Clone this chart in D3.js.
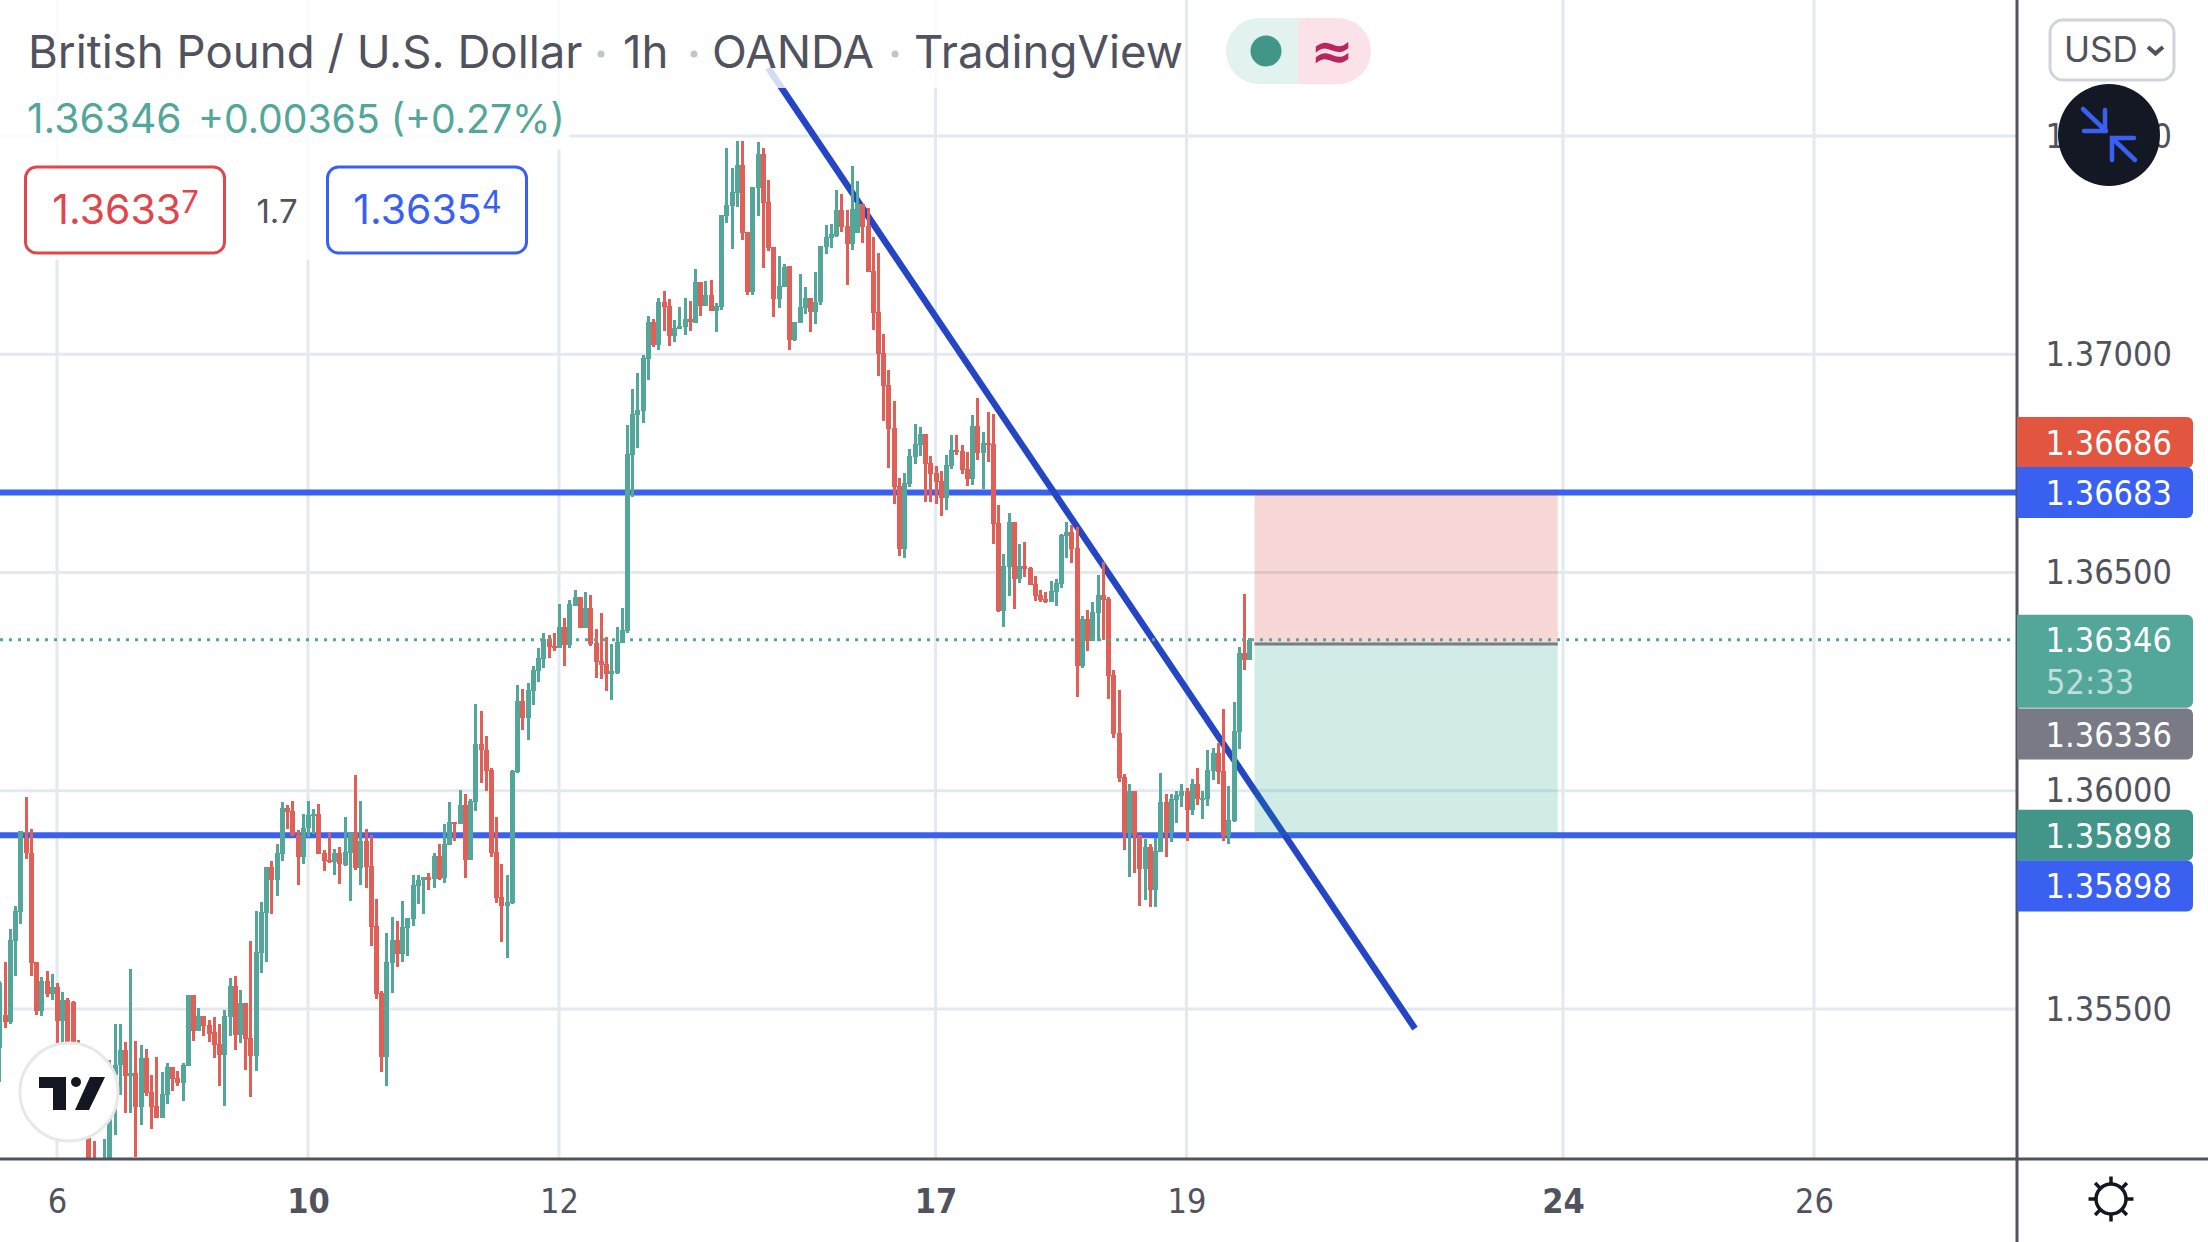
<!DOCTYPE html>
<html>
<head>
<meta charset="utf-8">
<title>GBP/USD 1h</title>
<style>
html, body { margin: 0; padding: 0; background: #fff; }
svg { display: block; }
.scale text { font-family: 'DejaVu Sans'; font-stretch: condensed; font-size: 34px; fill: #50535e; }
.legend { font-family: Inter, Roboto, sans-serif; }
</style>
</head>
<body>
<svg></svg>
<script src="https://d3js.org/d3.v7.min.js"></script>
<script>
// hourly bars, the first one sits 11 bars left of the "6" day tick
const firstBar = -11;
const opens = [
1.35411,1.35487,1.35471,1.35656,1.35722,1.35892,1.35858,1.35608,1.35496,1.35565,1.35535,
1.35551,1.35473,1.35521,1.35516,1.35407,1.35326,1.35212,1.35143,1.35086,1.35086,1.35120,1.35349,
1.35372,1.35405,1.35347,1.35354,1.35276,1.35388,1.35310,1.35278,1.35251,1.35304,1.35368,1.35342,
1.35331,1.35370,1.35533,1.35450,1.35484,1.35464,1.35448,1.35420,1.35395,1.35482,1.35553,1.35441,
1.35514,1.35434,1.35393,1.35629,1.35720,1.35826,1.35796,1.35856,1.35961,1.35954,1.35899,1.35849,
1.35915,1.35943,1.35947,1.35858,1.35842,1.35837,1.35858,1.35830,1.35858,1.35904,1.35824,1.35885,
1.35828,1.35691,1.35537,1.35391,1.35606,1.35659,1.35626,1.35686,1.35707,1.35782,1.35796,1.35803,
1.35798,1.35851,1.35801,1.35876,1.35929,1.35924,1.35968,1.35842,1.35975,1.36107,1.36094,1.36048,
1.35860,1.35757,1.35736,1.35743,1.36043,1.36206,1.36167,1.36229,1.36275,1.36302,1.36348,1.36332,
1.36327,1.36376,1.36334,1.36423,1.36444,1.36373,1.36419,1.36339,1.36298,1.36291,1.36268,1.36270,
1.36339,1.36366,1.36769,1.36861,1.36870,1.36989,1.37074,1.37021,1.37120,1.37111,1.37042,1.37058,
1.37063,1.37081,1.37072,1.37166,1.37111,1.37136,1.37099,1.37108,1.37317,1.37340,1.37369,1.37434,
1.37280,1.37143,1.37381,1.37459,1.37349,1.37246,1.37127,1.37154,1.37202,1.37033,1.37072,1.37106,
1.37129,1.37097,1.37120,1.37246,1.37266,1.37271,1.37330,1.37294,1.37253,1.37278,1.37344,1.37294,
1.37191,1.37097,1.37003,1.36930,1.36831,1.36698,1.36554,1.36703,1.36765,1.36792,1.36817,1.36751,
1.36728,1.36710,1.36671,1.36744,1.36781,1.36779,1.36737,1.36714,1.36836,1.36774,1.36797,1.36795,
1.36614,1.36412,1.36513,1.36616,1.36485,1.36515,1.36511,1.36474,1.36449,1.36440,1.36433,1.36456,
1.36474,1.36584,1.36593,1.36556,1.36286,1.36394,1.36343,1.36407,1.36449,1.36440,1.36265,1.36133,
1.36032,1.35904,1.36000,1.35899,1.35821,1.35872,1.35773,1.35860,1.35975,1.35906,1.35979,1.35988,
1.36000,1.35956,1.36016,1.35982,1.35982,1.36046,1.36087,1.36046,1.35897,1.35931,1.36135,1.36316,
1.36300
];
const highs = [
1.35565,1.35608,1.35684,1.35736,1.35908,1.35986,1.35913,1.35608,1.35574,1.35587,1.35581,
1.35560,1.35539,1.35525,1.35519,1.35429,1.35349,1.35224,1.35198,1.35143,1.35203,1.35384,1.35466,
1.35466,1.35425,1.35592,1.35427,1.35418,1.35409,1.35349,1.35391,1.35356,1.35377,1.35368,1.35358,
1.35377,1.35533,1.35533,1.35503,1.35484,1.35475,1.35482,1.35466,1.35498,1.35571,1.35576,1.35544,
1.35514,1.35656,1.35725,1.35746,1.35826,1.35840,1.35879,1.35975,1.35968,1.35977,1.35911,1.35947,
1.35977,1.35958,1.35970,1.35865,1.35904,1.35867,1.35872,1.35940,1.35904,1.36037,1.35977,1.35913,
1.35899,1.35752,1.35542,1.35675,1.35711,1.35702,1.35748,1.35709,1.35807,1.35807,1.35803,1.35812,
1.35858,1.35879,1.35924,1.35975,1.35929,1.36002,1.35993,1.35982,1.36199,1.36183,1.36126,1.36053,
1.35940,1.35833,1.35807,1.36048,1.36243,1.36233,1.36247,1.36286,1.36327,1.36362,1.36357,1.36362,
1.36428,1.36396,1.36437,1.36460,1.36444,1.36456,1.36449,1.36371,1.36407,1.36353,1.36336,1.36376,
1.36419,1.36838,1.36921,1.36957,1.36998,1.37088,1.37081,1.37129,1.37145,1.37127,1.37079,1.37108,
1.37129,1.37122,1.37195,1.37166,1.37168,1.37170,1.37117,1.37319,1.37473,1.37427,1.37489,1.37489,
1.37280,1.37383,1.37486,1.37473,1.37399,1.37246,1.37225,1.37207,1.37202,1.37074,1.37184,1.37154,
1.37129,1.37188,1.37248,1.37296,1.37298,1.37376,1.37367,1.37330,1.37431,1.37397,1.37344,1.37335,
1.37269,1.37232,1.37047,1.36964,1.36893,1.36717,1.36728,1.36783,1.36840,1.36833,1.36817,1.36767,
1.36744,1.36733,1.36769,1.36815,1.36815,1.36792,1.36776,1.36861,1.36900,1.36822,1.36868,1.36863,
1.36655,1.36543,1.36637,1.36616,1.36566,1.36570,1.36513,1.36492,1.36460,1.36456,1.36481,1.36485,
1.36588,1.36616,1.36609,1.36604,1.36401,1.36414,1.36433,1.36494,1.36524,1.36444,1.36277,1.36231,
1.36039,1.36016,1.36000,1.35899,1.35890,1.35879,1.35892,1.36041,1.35993,1.35993,1.36000,1.36016,
1.36007,1.36027,1.36053,1.36000,1.36094,1.36098,1.36110,1.36188,1.36011,1.36204,1.36330,1.36451,
1.36350
];
const lows = [
1.35333,1.35457,1.35466,1.35576,1.35695,1.35844,1.35576,1.35487,1.35484,1.35528,1.35521,
1.35418,1.35402,1.35384,1.35361,1.35292,1.35235,1.35075,1.35086,1.35063,1.35075,1.35097,1.35212,
1.35304,1.35262,1.35262,1.35161,1.35235,1.35301,1.35226,1.35251,1.35251,1.35283,1.35313,1.35324,
1.35290,1.35370,1.35427,1.35450,1.35439,1.35425,1.35388,1.35324,1.35278,1.35439,1.35405,1.35423,
1.35361,1.35299,1.35358,1.35583,1.35608,1.35718,1.35759,1.35840,1.35913,1.35897,1.35785,1.35833,
1.35895,1.35901,1.35856,1.35817,1.35835,1.35807,1.35787,1.35828,1.35748,1.35819,1.35785,1.35778,
1.35645,1.35523,1.35356,1.35324,1.35537,1.35597,1.35608,1.35622,1.35691,1.35741,1.35718,1.35773,
1.35778,1.35796,1.35789,1.35876,1.35885,1.35924,1.35801,1.35842,1.35954,1.36018,1.36000,1.35849,
1.35743,1.35654,1.35617,1.35741,1.36041,1.36139,1.36117,1.36197,1.36249,1.36282,1.36304,1.36320,
1.36327,1.36286,1.36327,1.36423,1.36373,1.36373,1.36332,1.36259,1.36256,1.36229,1.36208,1.36268,
1.36339,1.36362,1.36673,1.36785,1.36843,1.36941,1.37017,1.37010,1.37053,1.37019,1.37028,1.37058,
1.37044,1.37053,1.37072,1.37088,1.37111,1.37099,1.37051,1.37101,1.37301,1.37241,1.37337,1.37262,
1.37136,1.37136,1.37317,1.37198,1.37237,1.37085,1.37106,1.37154,1.37010,1.37030,1.37072,1.37092,
1.37051,1.37069,1.37113,1.37230,1.37243,1.37269,1.37280,1.37159,1.37239,1.37278,1.37255,1.37188,
1.37056,1.36950,1.36847,1.36740,1.36657,1.36538,1.36533,1.36696,1.36749,1.36767,1.36662,1.36662,
1.36657,1.36630,1.36643,1.36737,1.36769,1.36726,1.36698,1.36701,1.36758,1.36692,1.36753,1.36566,
1.36410,1.36375,1.36446,1.36417,1.36476,1.36490,1.36472,1.36435,1.36433,1.36430,1.36433,1.36423,
1.36465,1.36533,1.36522,1.36215,1.36281,1.36320,1.36343,1.36343,1.36346,1.36210,1.36121,1.36020,
1.35865,1.35803,1.35812,1.35736,1.35750,1.35734,1.35734,1.35860,1.35849,1.35883,1.35926,1.35963,
1.35885,1.35945,1.35968,1.35936,1.35966,1.36025,1.36016,1.35885,1.35879,1.35929,1.36096,1.36277,
1.36300
];
const closes = [
1.35560,1.35471,1.35659,1.35725,1.35908,1.35858,1.35606,1.35496,1.35565,1.35535,1.35551,
1.35473,1.35521,1.35418,1.35407,1.35326,1.35269,1.35109,1.35109,1.35127,1.35143,1.35349,1.35372,
1.35405,1.35347,1.35354,1.35276,1.35388,1.35308,1.35276,1.35251,1.35306,1.35368,1.35340,1.35331,
1.35372,1.35533,1.35450,1.35484,1.35462,1.35443,1.35418,1.35395,1.35484,1.35553,1.35441,1.35514,
1.35432,1.35393,1.35631,1.35722,1.35826,1.35796,1.35858,1.35961,1.35952,1.35899,1.35849,1.35915,
1.35945,1.35947,1.35856,1.35840,1.35837,1.35858,1.35833,1.35860,1.35904,1.35824,1.35885,1.35826,
1.35688,1.35535,1.35391,1.35608,1.35659,1.35626,1.35688,1.35709,1.35785,1.35796,1.35803,1.35796,
1.35851,1.35798,1.35879,1.35929,1.35926,1.35968,1.35842,1.35977,1.36107,1.36094,1.36046,1.35858,
1.35755,1.35736,1.35746,1.36046,1.36206,1.36167,1.36231,1.36277,1.36304,1.36348,1.36330,1.36330,
1.36376,1.36334,1.36428,1.36444,1.36373,1.36419,1.36336,1.36295,1.36288,1.36268,1.36275,1.36341,
1.36369,1.36772,1.36863,1.36872,1.36991,1.37074,1.37021,1.37120,1.37108,1.37042,1.37060,1.37065,
1.37081,1.37074,1.37166,1.37111,1.37136,1.37099,1.37111,1.37319,1.37342,1.37372,1.37434,1.37278,
1.37143,1.37383,1.37459,1.37347,1.37243,1.37127,1.37156,1.37200,1.37033,1.37074,1.37108,1.37129,
1.37097,1.37120,1.37248,1.37269,1.37275,1.37330,1.37292,1.37253,1.37333,1.37344,1.37292,1.37188,
1.37095,1.37001,1.36927,1.36829,1.36696,1.36554,1.36705,1.36767,1.36795,1.36817,1.36749,1.36726,
1.36707,1.36671,1.36746,1.36781,1.36776,1.36735,1.36714,1.36836,1.36774,1.36797,1.36792,1.36611,
1.36412,1.36515,1.36616,1.36485,1.36515,1.36508,1.36472,1.36446,1.36437,1.36433,1.36458,1.36476,
1.36586,1.36593,1.36554,1.36286,1.36394,1.36343,1.36410,1.36449,1.36437,1.36263,1.36130,1.36030,
1.35904,1.36000,1.35899,1.35821,1.35872,1.35773,1.35862,1.35975,1.35906,1.35982,1.35991,1.36000,
1.35956,1.36016,1.35982,1.35984,1.36048,1.36087,1.36043,1.35897,1.35933,1.36137,1.36316,1.36300,
1.36346
];

const priceTicks = [1.375, 1.37, 1.365, 1.36, 1.355];
const dayBars = [0, 48, 96, 168, 216, 288, 336];
const dayLabels = ['6', '10', '12', '17', '19', '24', '26'];
const boldDays = ['10', '17', '24'];

const stopPrice = 1.36683, entryPrice = 1.36336, targetPrice = 1.35898;
const lastPrice = 1.36346;
const hLines = [stopPrice, targetPrice];
const trendBars = [136, 259.7], trendPrices = [1.37656, 1.35455];
const positionBars = [229, 287];

// right hand price tags, stacked the way the app pushes them apart
const tagLabels = ['1.36686', '1.36683', '1.36336', '1.35898', '1.35898'];
const tagPrices = [1.36798, 1.36683, 1.36130, 1.35898, 1.35782];
const tagColors = ['#e2553f', '#3a60f2', '#787b86', '#429589', '#3a60f2'];

const green = '#53a69a', red = '#e06057';
const ink = '#50535e';
const gridColor = '#e3e9f0';

const W = 2208, H = 1242;
const paneR = 2017, paneB = 1159;

const svg = d3.select('svg').attr('width', W).attr('height', H);

const x = d3.scaleLinear([0, 48], [57, 308]);
const y = d3.scaleLinear([1.355, 1.375], [1009, 136]);

svg.append('clipPath').attr('id', 'pane')
   .append('rect').attr('width', paneR).attr('height', paneB);

const pane = svg.append('g').attr('clip-path', 'url(#pane)');

// grid
pane.append('g').selectAll('line').data(priceTicks).join('line')
    .attr('x1', 0).attr('x2', paneR)
    .attr('y1', d => y(d)).attr('y2', d => y(d))
    .attr('stroke', gridColor).attr('stroke-width', 3);
pane.append('g').selectAll('line').data(dayBars).join('line')
    .attr('x1', d => x(d)).attr('x2', d => x(d))
    .attr('y1', 0).attr('y2', paneB)
    .attr('stroke', gridColor).attr('stroke-width', 3);

// drawings
pane.append('g').selectAll('line').data(hLines).join('line')
    .attr('x1', 0).attr('x2', paneR)
    .attr('y1', d => y(d)).attr('y2', d => y(d))
    .attr('stroke', '#3a60f2').attr('stroke-width', 6);

pane.append('line')
    .attr('x1', x(trendBars[0])).attr('y1', y(trendPrices[0]))
    .attr('x2', x(trendBars[1])).attr('y2', y(trendPrices[1]))
    .attr('stroke', '#2446c4').attr('stroke-width', 6.5);

pane.append('rect')
    .attr('x', x(positionBars[0])).attr('width', x(positionBars[1]) - x(positionBars[0]))
    .attr('y', y(stopPrice)).attr('height', y(entryPrice) - y(stopPrice))
    .attr('fill', '#d73c32').attr('fill-opacity', 0.2);
pane.append('rect')
    .attr('x', x(positionBars[0])).attr('width', x(positionBars[1]) - x(positionBars[0]))
    .attr('y', y(entryPrice)).attr('height', y(targetPrice) - y(entryPrice))
    .attr('fill', '#089981').attr('fill-opacity', 0.19);
pane.append('line')
    .attr('x1', x(positionBars[0])).attr('x2', x(positionBars[1]))
    .attr('y1', y(entryPrice)).attr('y2', y(entryPrice))
    .attr('stroke', '#787b86').attr('stroke-width', 3);

// candles
const candles = pane.append('g').attr('shape-rendering', 'crispEdges')
    .selectAll('g').data(d3.range(closes.length)).join('g')
    .attr('fill', i => closes[i] >= opens[i] ? green : red);
const barX = i => Math.round(x(firstBar + i));
candles.append('rect')
    .attr('x', i => barX(i) - 1).attr('width', 3)
    .attr('y', i => y(highs[i])).attr('height', i => y(lows[i]) - y(highs[i]));
candles.append('rect')
    .attr('x', i => barX(i) - 2).attr('width', 5)
    .attr('y', i => y(Math.max(opens[i], closes[i])))
    .attr('height', i => Math.max(2, Math.abs(y(opens[i]) - y(closes[i]))));

// last price line
pane.append('line')
    .attr('x1', 0).attr('x2', 2010)
    .attr('y1', y(lastPrice)).attr('y2', y(lastPrice))
    .attr('stroke', green).attr('stroke-width', 3).attr('stroke-dasharray', '3 6');

// legend backdrops wash out whatever runs under the text
const wash = svg.append('g').attr('fill', '#fff').attr('fill-opacity', 0.8);
wash.append('rect').attr('width', 1185).attr('height', 88);
wash.append('rect').attr('y', 88).attr('width', 570).attr('height', 62);
wash.append('rect').attr('y', 150).attr('width', 535).attr('height', 110);

const legend = svg.append('g').attr('class', 'legend');
const title = legend.append('g').attr('font-size', 45.6).attr('fill', ink);
title.append('text').attr('x', 28).attr('y', 68).text('British Pound / U.S. Dollar');
title.append('text').attr('x', 623).attr('y', 68).text('1h');
title.append('text').attr('x', 712).attr('y', 68).text('OANDA');
title.append('text').attr('x', 914).attr('y', 68).text('TradingView');
legend.append('g').attr('fill', '#c1c4cd').selectAll('circle').data([601, 694, 895]).join('circle')
    .attr('cx', d => d).attr('cy', 54).attr('r', 3.5);

const change = legend.append('g').attr('fill', green);
change.append('text').attr('x', 27).attr('y', 133).attr('font-size', 40.8).text('1.36346');
change.append('text').attr('x', 198).attr('y', 133).attr('font-size', 39.2).text('+0.00365 (+0.27%)');

const quote = (bx, color, big, small) => {
  legend.append('rect').attr('x', bx).attr('y', 167).attr('width', 199).attr('height', 86).attr('rx', 11)
      .attr('fill', '#fff').attr('stroke', color).attr('stroke-width', 3);
  const t = legend.append('text').attr('x', bx + 100).attr('y', 224).attr('text-anchor', 'middle')
      .attr('font-size', 41).attr('fill', color);
  t.append('tspan').text(big);
  t.append('tspan').attr('font-size', 31).attr('dy', -11).text(small);
};
quote(25.5, '#e0474d', '1.3633', '7');
quote(327.5, '#3a60f2', '1.3635', '4');
legend.append('text').attr('x', 277).attr('y', 223).attr('text-anchor', 'middle')
    .attr('font-size', 33).attr('fill', ink).text('1.7');

// market status pill
legend.append('path').attr('fill', '#e2f2ef')
    .attr('d', 'M1298,18H1259a33,33 0 0 0 0,66H1298Z');
legend.append('path').attr('fill', '#fae2e8')
    .attr('d', 'M1298,18H1338a33,33 0 0 1 0,66H1298Z');
legend.append('circle').attr('cx', 1266).attr('cy', 51).attr('r', 15.5).attr('fill', '#429589');
legend.append('text').attr('x', 1332).attr('y', 69).attr('text-anchor', 'middle')
    .attr('font-family', 'DejaVu Sans').attr('font-weight', 'bold')
    .attr('font-size', 52).attr('fill', '#b8255f').text('≈');

// axes
svg.append('g').attr('class', 'scale').attr('transform', 'translate(2172,0)')
   .call(d3.axisRight(y).tickValues(priceTicks).tickFormat(d3.format('.5f')).tickSize(0).tickPadding(0))
   .call(g => g.select('.domain').remove())
   .call(g => g.selectAll('text').attr('text-anchor', 'end').attr('fill', null).attr('dy', '0.33em'));

svg.append('g').attr('class', 'scale').attr('transform', `translate(0,${paneB + 30})`)
   .call(d3.axisBottom(x).tickValues(dayBars).tickFormat((d, i) => dayLabels[i]).tickSize(0).tickPadding(0))
   .call(g => g.select('.domain').remove())
   .call(g => g.selectAll('text').attr('fill', null).attr('dy', '0.71em')
       .style('font-weight', (d, i) => boldDays.includes(dayLabels[i]) ? 'bold' : null));

svg.append('line').attr('x1', paneR).attr('x2', paneR).attr('y1', 0).attr('y2', H)
   .attr('stroke', ink).attr('stroke-width', 3);
svg.append('line').attr('x1', 0).attr('x2', W).attr('y1', paneB).attr('y2', paneB)
   .attr('stroke', ink).attr('stroke-width', 3);

// price tags
const tags = svg.append('g').attr('class', 'scale');
const tagPath = (top, h) => `M2017,${top}H2187a6,6 0 0 1 6,6V${top + h - 6}a6,6 0 0 1 -6,6H2017Z`;
tags.selectAll('path').data(tagLabels).join('path')
    .attr('d', (d, i) => tagPath(y(tagPrices[i]) - 25.5, 51))
    .attr('fill', (d, i) => tagColors[i]);
tags.selectAll('text').data(tagLabels).join('text')
    .attr('x', 2172).attr('y', (d, i) => y(tagPrices[i]))
    .attr('dy', '0.37em').attr('text-anchor', 'end').style('fill', '#fff').text(d => d);

const lastY = y(lastPrice);
tags.append('path').attr('d', tagPath(lastY - 25, 93)).attr('fill', green);
tags.append('text').attr('x', 2172).attr('y', lastY).attr('dy', '0.37em')
    .attr('text-anchor', 'end').style('fill', '#fff').text('1.36346');
tags.append('text').attr('x', 2046).attr('y', lastY + 42).attr('dy', '0.37em')
    .style('fill', '#bfe0da').text('52:33');

// currency button
svg.append('rect').attr('x', 2050).attr('y', 20).attr('width', 124).attr('height', 60).attr('rx', 13)
   .attr('fill', '#fff').attr('stroke', '#d1d4dc').attr('stroke-width', 3);
svg.append('text').attr('x', 2064).attr('y', 62).attr('font-family', 'Inter, Roboto, sans-serif')
   .attr('font-size', 35).attr('fill', ink).text('USD');
svg.append('path').attr('d', 'M2148,47l7.5,6.5l7.5,-6.5').attr('fill', 'none')
   .attr('stroke', ink).attr('stroke-width', 4);

// exit fullscreen button
const exit = svg.append('g').attr('transform', 'translate(2109,135)');
exit.append('circle').attr('r', 51).attr('fill', '#141824');
exit.append('path').attr('fill', 'none').attr('stroke', '#3a60f2').attr('stroke-width', 4.5).attr('stroke-linecap', 'round')
    .attr('d', 'M-26,-26L-3,-4M-4,-25V-4H-25M26,25L3,3M3,25V3H25');

// settings gear
const gear = svg.append('g').attr('transform', 'translate(2111,1199)').attr('stroke', '#131722').attr('stroke-width', 3.5);
gear.append('circle').attr('r', 15).attr('fill', '#fff');
gear.selectAll('line').data(d3.range(8)).join('line')
    .attr('transform', d => `rotate(${d * 45})`)
    .attr('y1', -16).attr('y2', -22.5);

// watermark logo
const logo = svg.append('g').attr('transform', 'translate(69,1092)');
logo.append('circle').attr('r', 49).attr('fill', '#fff').attr('stroke', '#e8e8e8').attr('stroke-width', 3);
logo.append('path').attr('fill', '#131722')
    .attr('d', 'M-30,-15H-3V18H-16V-4H-30ZM36,-15L20,18H6L21,-15Z');
logo.append('circle').attr('cx', 7).attr('cy', -10).attr('r', 5).attr('fill', '#131722');
</script>
</body>
</html>
